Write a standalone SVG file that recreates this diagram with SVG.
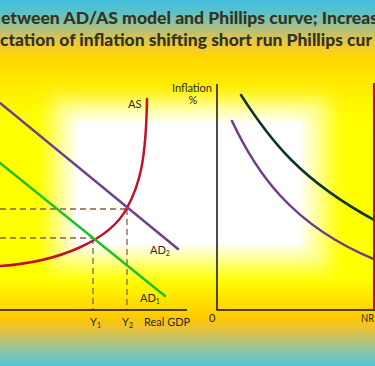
<svg xmlns="http://www.w3.org/2000/svg" width="375" height="366" viewBox="0 0 375 366">
  <defs>
    <linearGradient id="bg" x1="0" y1="0" x2="0" y2="1">
      <stop offset="0" stop-color="#45bfe0"/>
      <stop offset="0.03" stop-color="#55c2cc"/>
      <stop offset="0.06" stop-color="#8cc0a0"/>
      <stop offset="0.09" stop-color="#c4c06c"/>
      <stop offset="0.12" stop-color="#f0c83a"/>
      <stop offset="0.16" stop-color="#ffd800"/>
      <stop offset="0.25" stop-color="#fff000"/>
      <stop offset="0.33" stop-color="#ffff00"/>
      <stop offset="0.76" stop-color="#ffff00"/>
      <stop offset="0.82" stop-color="#ffe200"/>
      <stop offset="0.87" stop-color="#ffc800"/>
      <stop offset="0.90" stop-color="#e8c23e"/>
      <stop offset="0.93" stop-color="#b8c272"/>
      <stop offset="0.96" stop-color="#88c8a8"/>
      <stop offset="1" stop-color="#50c4d4"/>
    </linearGradient>
    <filter id="soft" x="-30%" y="-30%" width="160%" height="160%">
      <feGaussianBlur stdDeviation="9"/>
    </filter>
    <style>
      .title { font-family: Lato, "Open Sans", "Liberation Sans", sans-serif; font-weight: 900; font-size: 17px; fill: #333322; }
      .lbl { font-family: Lato, "Open Sans", "Liberation Sans", sans-serif; font-size: 11px; fill: #2a2a2a; }
      .sub { font-size: 7px; }
      .axis { stroke: #111; stroke-width: 1.5; fill: none; }
      .dash { stroke: #8a5e4a; stroke-width: 1.3; stroke-dasharray: 6 4; fill: none; }
      .curve { fill: none; stroke-width: 2.5; stroke-linecap: round; }
    </style>
  </defs>

  <!-- background -->
  <rect x="0" y="0" width="375" height="366" fill="url(#bg)"/>
  <g id="glow" fill="#ffffff">
    <rect x="50" y="98" width="280" height="172" fill="#ffffc0" opacity="0.7" filter="url(#soft)"/>
    <rect x="68" y="114" width="242" height="138" filter="url(#soft)"/>
    <rect x="76" y="121" width="226" height="124"/>
  </g>

  <!-- title -->
  <g id="title">
    <text class="title" x="1" y="24" textLength="377" lengthAdjust="spacingAndGlyphs">etween AD/AS model and Phillips curve; Increas</text>
    <text class="title" x="0" y="46" textLength="372" lengthAdjust="spacingAndGlyphs">ctation of inflation shifting short run Phillips cur</text>
  </g>

  <!-- connectors / lines -->
  <g id="connectors">
    <line class="dash" x1="0" y1="209" x2="127" y2="209"/>
    <line class="dash" x1="0" y1="238" x2="93" y2="238"/>
    <line class="dash" x1="93" y1="238" x2="93" y2="310"/>
    <line class="dash" x1="127" y1="209" x2="127" y2="310"/>
    <line class="axis" x1="0" y1="310" x2="187" y2="310"/>
    <line class="axis" x1="217" y1="84" x2="217" y2="310"/>
    <line class="axis" x1="216.3" y1="310" x2="375" y2="310"/>
  </g>

  <g id="AS">
    <path class="curve" stroke="#c0102a" d="M0,266 C60,262 110,240 127,208 C140,184 146,160 147,99"/>
    <text class="lbl" x="128" y="108">AS</text>
  </g>
  <g id="AD2">
    <line class="curve" stroke="#6f3f8f" x1="0" y1="103" x2="178" y2="249"/>
    <text class="lbl" x="150" y="254">AD<tspan class="sub" dy="2">2</tspan></text>
  </g>
  <g id="AD1">
    <line class="curve" stroke="#1fbf2a" x1="0" y1="163" x2="165" y2="296"/>
    <text class="lbl" x="140" y="302">AD<tspan class="sub" dy="2">1</tspan></text>
  </g>
  <g id="xlabels-left">
    <text class="lbl" x="90" y="326">Y<tspan class="sub" dy="2">1</tspan></text>
    <text class="lbl" x="122" y="326">Y<tspan class="sub" dy="2">2</tspan></text>
    <text class="lbl" x="144" y="326">Real GDP</text>
  </g>

  <g id="SRPC2">
    <path class="curve" stroke="#0d3528" d="M241,95 C270,140 300,180 376,221"/>
  </g>
  <g id="SRPC1">
    <path class="curve" stroke="#6e3d8c" d="M232,121 C255,170 290,225 376,260"/>
  </g>
  <g id="LRPC">
    <line stroke="#c0001a" stroke-width="2" x1="374" y1="83" x2="374" y2="309"/>
  </g>
  <g id="right-labels">
    <text class="lbl" x="212" y="92" text-anchor="end">Inflation</text>
    <text class="lbl" x="193" y="104" text-anchor="middle">%</text>
    <text class="lbl" x="209" y="322">0</text>
    <text class="lbl" x="361" y="322" textLength="13" lengthAdjust="spacingAndGlyphs">NR</text>
  </g>
</svg>
